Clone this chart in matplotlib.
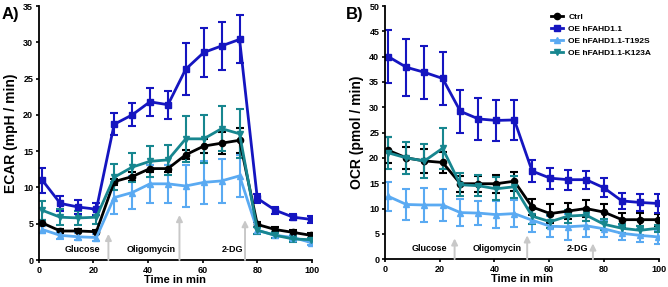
import matplotlib.pyplot as plt
from matplotlib.lines import Line2D

plt.rcParams['font.family'] = ['Liberation Sans', 'DejaVu Sans']
plt.rcParams['font.weight'] = 'bold'

# time points (min)
time = [1.3, 7.9, 14.5, 21.1, 27.6, 34.2, 40.7, 47.3, 53.8, 60.4, 66.9, 73.5, 80.0, 86.6, 93.2, 99.7]

labels = ['Ctrl', 'OE hFAHD1.1', 'OE hFAHD1.1-T192S', 'OE hFAHD1.1-K123A']
colors = ['#000000', '#1515c0', '#5aaaf2', '#17868f']
markers = ['o', 's', '^', 'v']

# panel A: ECAR
ecar_ctrl = [5.1, 4.0, 4.0, 3.9, 10.8, 11.5, 12.6, 12.6, 14.5, 15.7, 16.1, 16.5, 4.9, 4.2, 3.8, 3.4]
ecar_ctrl_err = [0.4, 0.3, 0.3, 0.3, 0.4, 0.6, 0.5, 0.5, 0.6, 1.0, 1.5, 1.7, 0.4, 0.3, 0.3, 0.3]
ecar_oe = [11.0, 7.8, 7.3, 7.0, 18.7, 20.0, 21.8, 21.4, 26.3, 28.6, 29.5, 30.4, 8.5, 6.85, 5.9, 5.6]
ecar_oe_err = [1.7, 1.0, 1.0, 0.8, 1.5, 1.6, 1.9, 1.9, 3.6, 3.4, 3.3, 3.3, 0.6, 0.5, 0.4, 0.5]
ecar_t192s = [4.2, 3.4, 3.2, 3.1, 8.6, 9.3, 10.5, 10.5, 10.2, 10.7, 10.9, 11.6, 4.1, 3.4, 3.1, 2.4]
ecar_t192s_err = [0.5, 0.5, 0.5, 0.5, 2.2, 2.3, 2.6, 2.6, 2.9, 3.0, 3.0, 2.9, 0.5, 0.3, 0.3, 0.3]
ecar_k123a = [6.85, 5.9, 5.8, 5.9, 11.4, 12.8, 13.6, 13.8, 16.7, 16.7, 18.1, 17.4, 4.1, 3.4, 2.9, 2.8]
ecar_k123a_err = [1.3, 1.1, 1.0, 1.0, 1.8, 2.0, 2.1, 2.1, 3.2, 3.3, 3.1, 3.4, 0.5, 0.4, 0.4, 0.3]

# panel B: OCR
ocr_ctrl = [21.5, 20.0, 19.4, 19.1, 14.9, 14.9, 14.9, 15.4, 10.3, 9.0, 9.5, 10.0, 9.3, 7.8, 7.8, 7.8]
ocr_ctrl_err = [2.6, 2.2, 2.4, 2.0, 1.6, 1.6, 1.8, 1.9, 1.6, 1.8, 1.6, 1.6, 1.6, 1.4, 1.3, 1.2]
ocr_oe = [40.0, 37.9, 36.9, 35.7, 29.2, 27.7, 27.4, 27.5, 17.4, 16.0, 15.7, 15.7, 14.1, 11.5, 11.2, 11.0]
ocr_oe_err = [5.3, 5.6, 5.3, 5.3, 4.3, 4.1, 4.0, 3.9, 2.1, 2.1, 2.0, 1.8, 1.9, 1.6, 1.7, 1.9]
ocr_t192s = [12.4, 10.8, 10.7, 10.7, 9.2, 9.1, 8.8, 9.0, 7.7, 6.5, 6.4, 6.6, 6.0, 5.1, 4.7, 4.4]
ocr_t192s_err = [2.9, 3.1, 3.4, 3.2, 2.6, 2.4, 2.7, 2.6, 2.4, 2.1, 2.6, 2.2, 1.6, 1.4, 1.3, 1.4]
ocr_k123a = [21.0, 20.0, 19.4, 21.9, 14.7, 14.5, 13.9, 14.3, 8.5, 7.4, 8.5, 8.7, 6.9, 6.1, 5.7, 6.1]
ocr_k123a_err = [3.2, 3.2, 3.3, 4.0, 2.3, 2.1, 2.3, 2.2, 1.5, 1.3, 1.3, 1.2, 1.1, 0.9, 0.9, 0.7]

injections = ['Glucose', 'Oligomycin', '2-DG']

fig = plt.figure(figsize=(6.68, 2.87), dpi=100)
axA = fig.add_axes([0.058, 0.094, 0.409, 0.885])
axB = fig.add_axes([0.576, 0.097, 0.410, 0.882])


def panel(ax, series, errs, ymax, ystep, ylabel, arrow_x, arrow_top, text_x):
    # arrows for the injections, drawn first so lines sit on top
    for xa, yt in zip(arrow_x, arrow_top):
        ax.annotate('', xy=(xa, yt), xytext=(xa, 0),
                    arrowprops=dict(arrowstyle='-|>', color='#c8c8c8', lw=1.4,
                                    mutation_scale=9, shrinkA=0, shrinkB=0))
    for name, xt in zip(injections, text_x):
        ax.text(xt, ymax * 0.025, name, ha='center', va='bottom', fontsize=6.5, fontweight='bold')
    for y, e, c, m, lab in zip(series, errs, colors, markers, labels):
        ax.errorbar(time, y, yerr=e, color=c, marker=m, markersize=4.5, lw=2,
                    elinewidth=1.5, capsize=3, capthick=1.5, label=lab)
    ax.set_xlim(0, 100)
    ax.set_ylim(0, ymax)
    ax.set_xticks([0, 20, 40, 60, 80, 100])
    ax.set_yticks(range(0, ymax + 1, ystep))
    ax.spines['top'].set_visible(False)
    ax.spines['right'].set_visible(False)
    ax.spines['left'].set_linewidth(1.3)
    ax.spines['bottom'].set_linewidth(1.3)
    ax.tick_params(labelsize=6.5, width=1.2, length=2.5, pad=1.5)
    ax.set_xlabel('Time in min', fontsize=8, fontweight='bold', labelpad=0.5)
    ax.set_ylabel(ylabel, fontsize=10, fontweight='bold', labelpad=4)


panel(axA, [ecar_ctrl, ecar_oe, ecar_t192s, ecar_k123a],
      [ecar_ctrl_err, ecar_oe_err, ecar_t192s_err, ecar_k123a_err],
      35, 5, 'ECAR (mpH / min)', [25.5, 51.5, 75.5], [3.6, 6.2, 5.5], [16, 41, 71])
panel(axB, [ocr_ctrl, ocr_oe, ocr_t192s, ocr_k123a],
      [ocr_ctrl_err, ocr_oe_err, ocr_t192s_err, ocr_k123a_err],
      50, 5, 'OCR (pmol / min)', [25.5, 52, 76], [4.1, 4.7, 3.1], [16.4, 41, 70.5])

handles = [Line2D([], [], color=c, marker=m, markersize=4.5, lw=2) for c, m in zip(colors, markers)]
axB.legend(handles, labels, loc='upper right', bbox_to_anchor=(0.985, 0.985), borderaxespad=0,
           fontsize=6, frameon=False, handlelength=1.5, handletextpad=0.6, labelspacing=0.5)

fig.text(0.003, 0.975, 'A)', fontsize=12, fontweight='bold', va='top')
fig.text(0.518, 0.975, 'B)', fontsize=12, fontweight='bold', va='top')

fig.savefig('out.png', dpi=100)
